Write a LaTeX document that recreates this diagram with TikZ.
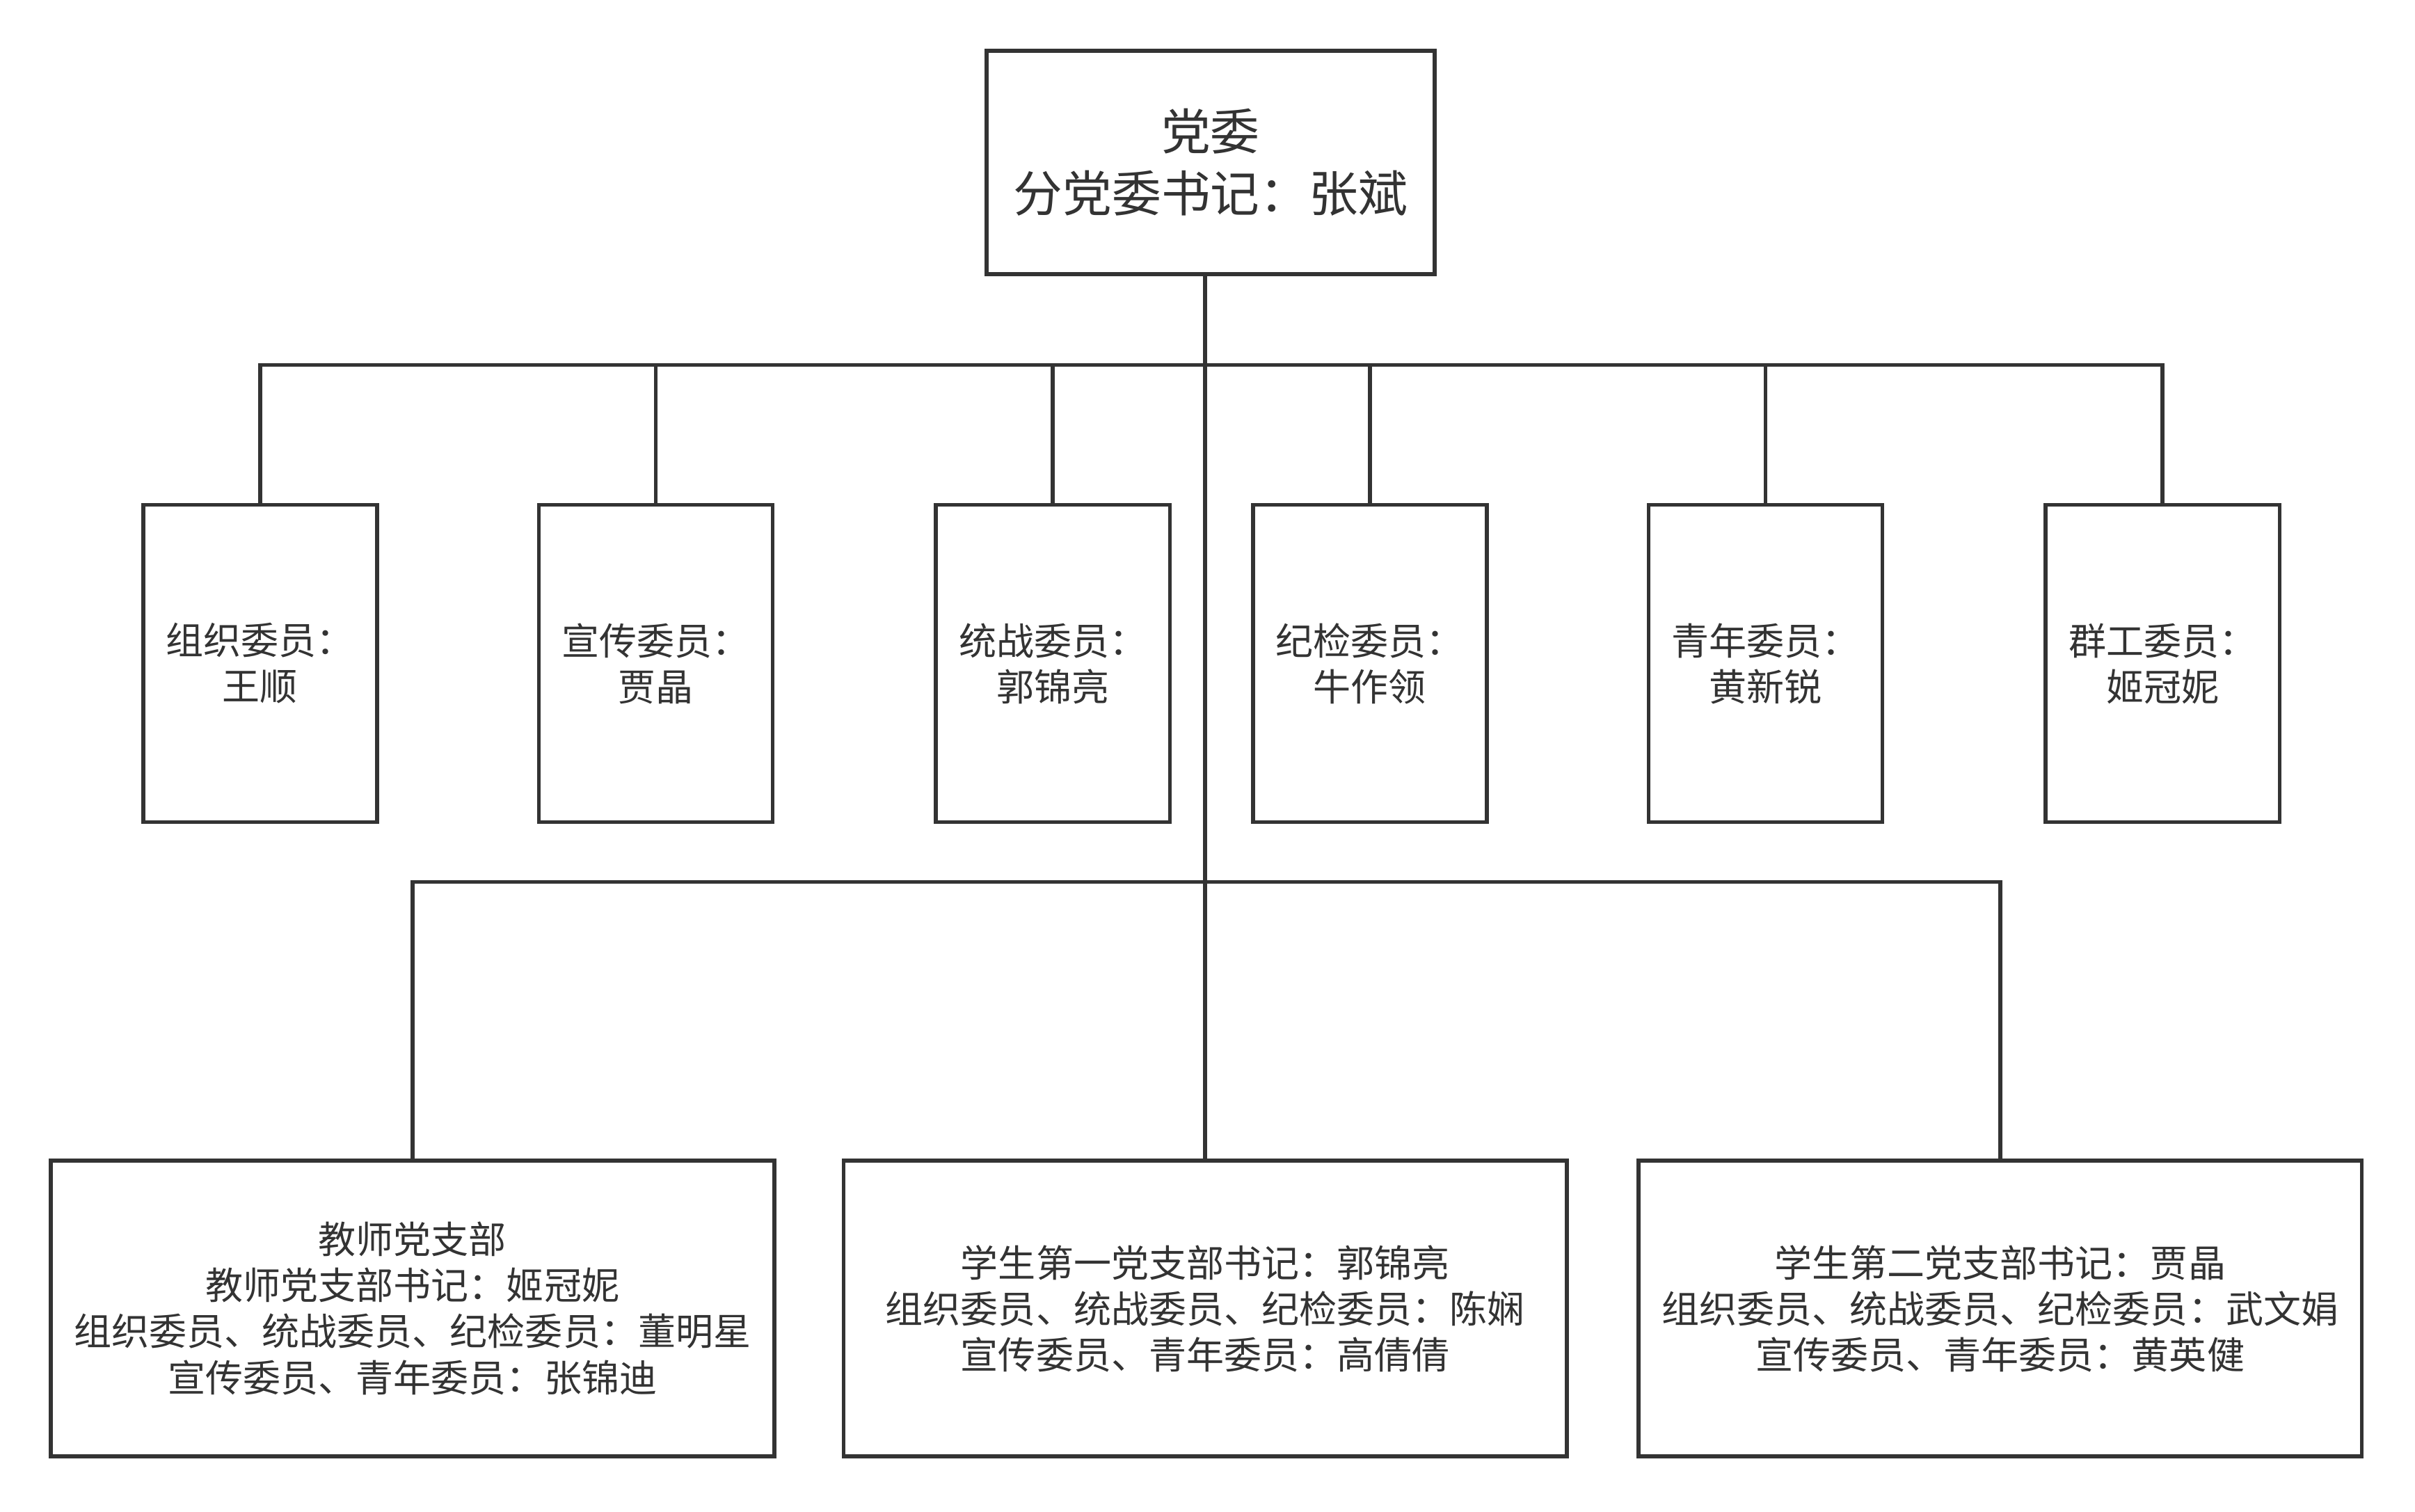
\documentclass[tikz,border=0pt]{standalone}
\usepackage{fontspec}
\setmainfont{Noto Sans CJK SC}
\usepackage{xcolor}
\usepackage{tikz}
\definecolor{inkgray}{HTML}{333333}

\begin{document}
\begin{tikzpicture}[x=0.2mm,y=-0.2mm]
    \tikzstyle{box} = [draw=inkgray, line width=0.5mm, text=inkgray, align=center, inner sep=0pt]
    \tikzstyle{member} = [box, minimum width=30.4mm, minimum height=41.2mm, font=\fontsize{13.9}{17}\selectfont]
    \tikzstyle{branch} = [box, minimum width=94mm, minimum height=38.4mm, font=\fontsize{13.9}{17}\selectfont]
    \tikzstyle{wire} = [draw=inkgray, line width=0.5mm, line cap=rect]
    \useasboundingbox (0,0) rectangle (1569,982);
    % 党委
    \node[box, minimum width=58.2mm, minimum height=29mm, font=\fontsize{18.2}{22.7}\selectfont] (dw) at (786.5,105.5) {党委\\分党委书记：张斌};
    \coordinate (bus1) at (783,237);
    \coordinate (bus2) at (783,573);
    % 委员
    \foreach \i/\x/\t in {1/169/{组织委员：\\王顺}, 2/426/{宣传委员：\\贾晶}, 3/684/{统战委员：\\郭锦亮},
                          4/890/{纪检委员：\\牛作领}, 5/1147/{青年委员：\\黄新锐}, 6/1405/{群工委员：\\姬冠妮}} {
        \node[member] (m\i) at (\x,431) {\t};
        \draw[wire] (m\i.north) -- (m\i.north |- bus1);
    }
    \draw[wire] (m1.north |- bus1) -- (m6.north |- bus1);
    % 支部
    \node[branch] (b1) at (268,850) {教师党支部\\教师党支部书记：姬冠妮\\组织委员、统战委员、纪检委员：董明星\\宣传委员、青年委员：张锦迪};
    \node[branch] (b2) at (783,850) {学生第一党支部书记：郭锦亮\\组织委员、统战委员、纪检委员：陈娴\\宣传委员、青年委员：高倩倩};
    \node[branch] (b3) at (1299.5,850) {学生第二党支部书记：贾晶\\组织委员、统战委员、纪检委员：武文娟\\宣传委员、青年委员：黄英健};
    \draw[wire] (dw.south -| b2.north) -- (b2.north);
    \draw[wire] (b1.north) -- (b1.north |- bus2) -- (b3.north |- bus2) -- (b3.north);
\end{tikzpicture}
\end{document}
